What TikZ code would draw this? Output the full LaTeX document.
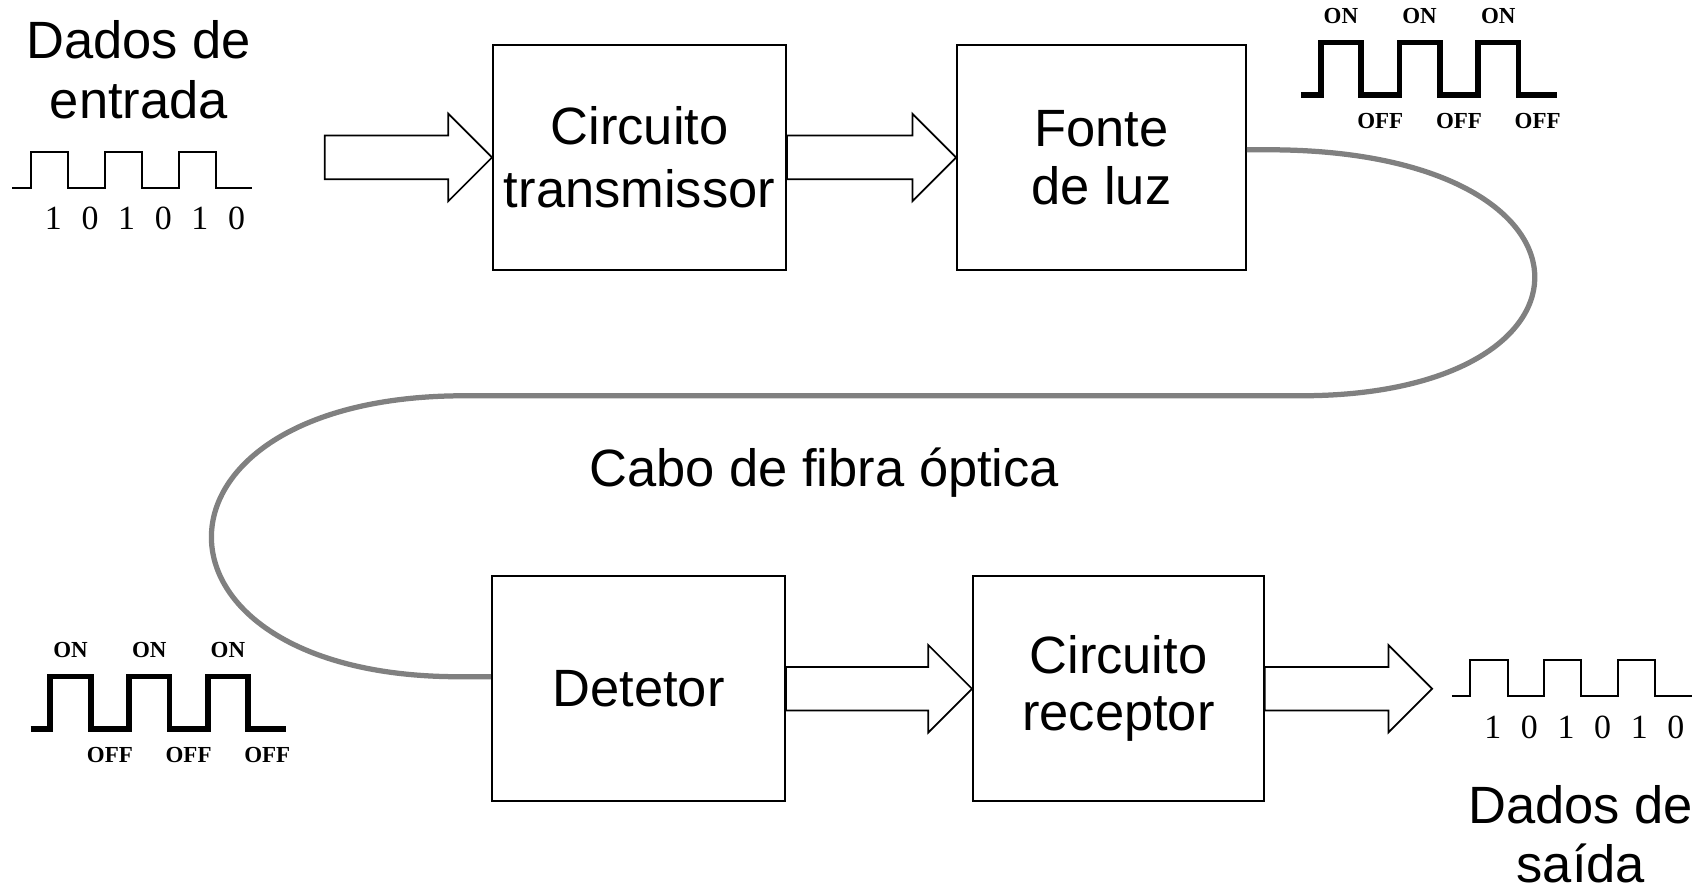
\documentclass[tikz,border=0pt]{standalone}
\usepackage{fontspec}
\setmainfont{Liberation Sans}
\newfontfamily\bitfont{Liberation Serif}
\usetikzlibrary{calc}

\tikzset{
  block/.style={draw, line width=0.9pt, minimum width=134pt, minimum height=103pt, inner sep=0pt, align=center},
  textlabel/.style={align=center, inner sep=0pt},
  hollow/.style={draw, line width=0.8pt, line join=miter},
  fibre/.style={draw=gray, line width=2.4pt},
  thinwave/.style={line width=0.9pt},
  thickwave/.style={line width=2.6pt, line join=miter},
  bit/.style={font=\bitfont\fontsize{15.5}{15.5}\selectfont, inner sep=0pt},
  onoff/.style={font=\bitfont\bfseries\fontsize{10.5}{10.5}\selectfont, inner sep=0pt},
}
\newcommand{\bigfont}[1]{\fontsize{24}{#1}\selectfont}

% hollow block arrow from #1 (tail) to #2 (tip)
\newcommand{\fatarrow}[2]{%
  \draw[hollow] ($(#1)+(0,-20)$) -- ($(#2)+(-40,-20)$) -- ($(#2)+(-40,-40)$) -- (#2)
    -- ($(#2)+(-40,40)$) -- ($(#2)+(-40,20)$) -- ($(#1)+(0,20)$) -- cycle;}

% 101010 signal: name, x, y of low level
\newcommand{\bitwave}[3]{%
  \draw[thinwave] (#2,#3) -- ++(17,0) foreach \k in {1,2,3} { -- ++(0,-33) -- ++(34,0) -- ++(0,33) -- ++(33.5,0)};
  \foreach \d [count=\k] in {1,0,1,0,1,0}
    \node[bit] (#1-bit-\k) at (#2+4+33.5*\k, #3+28) {\d};
}

% ON/OFF light signal: name, x, y of low level
\newcommand{\onoffwave}[3]{%
  \draw[thickwave] (#2,#3) -- ++(18,0) foreach \k in {1,2,3} { -- ++(0,-48) -- ++(37,0) -- ++(0,48) -- ++(35,0)};
  \foreach \k in {0,1,2} {
    \node[onoff] (#1-on-\k) at (#2+36.5+72*\k, #3-72) {ON};
    \node[onoff] (#1-off-\k) at (#2+72.5+72*\k, #3+24) {OFF};
  }
}

\begin{document}
\begin{tikzpicture}[x=0.5pt, y=-0.5pt]
\useasboundingbox (0,0) rectangle (1560.5,815);

% blocks
\node[block, font=\bigfont{29}] (transmissor) at (585,144) {Circuito\\transmissor};
\node[block, minimum width=132pt, font=\bigfont{26.7}] (fonte) at (1007.5,144) {Fonte\\de luz};
\node[block, font=\bigfont{27}] (detetor) at (584,630) {Detetor};
\node[block, minimum width=133pt, font=\bigfont{26}] (receptor) at (1023,630) {Circuito\\receptor};

% texts
\node[textlabel, font=\bigfont{27.5}] (entrada) at (127,64) {Dados de\\entrada};
\node[textlabel, font=\bigfont{27}] (saida) at (1446,763) {Dados de\\saída};
\node[anchor=base, inner sep=0pt, font=\bigfont{29}] (cabo) at (754,445) {Cabo de fibra óptica};

% arrows
\coordinate (in-tail) at (297,144);
\coordinate (out-tip) at (1310,630);
\fatarrow{in-tail}{transmissor.west}
\fatarrow{transmissor.east}{fonte.west}
\fatarrow{detetor.east}{receptor.west}
\fatarrow{receptor.east}{out-tip}

% fibre cable
\draw[fibre] ([yshift=3.5pt]fonte.east) -- (1160,137) .. controls (1480,137) and (1480,362) .. (1190,362)
  -- (425,362) .. controls (117,362) and (117,619) .. (420,619) -- ([yshift=5.5pt]detetor.west);

% signals
\bitwave{in}{11.4}{171.6}
\bitwave{out}{1328}{637}
\onoffwave{tx}{1190}{87}
\onoffwave{rx}{28}{666.7}
\end{tikzpicture}
\end{document}
